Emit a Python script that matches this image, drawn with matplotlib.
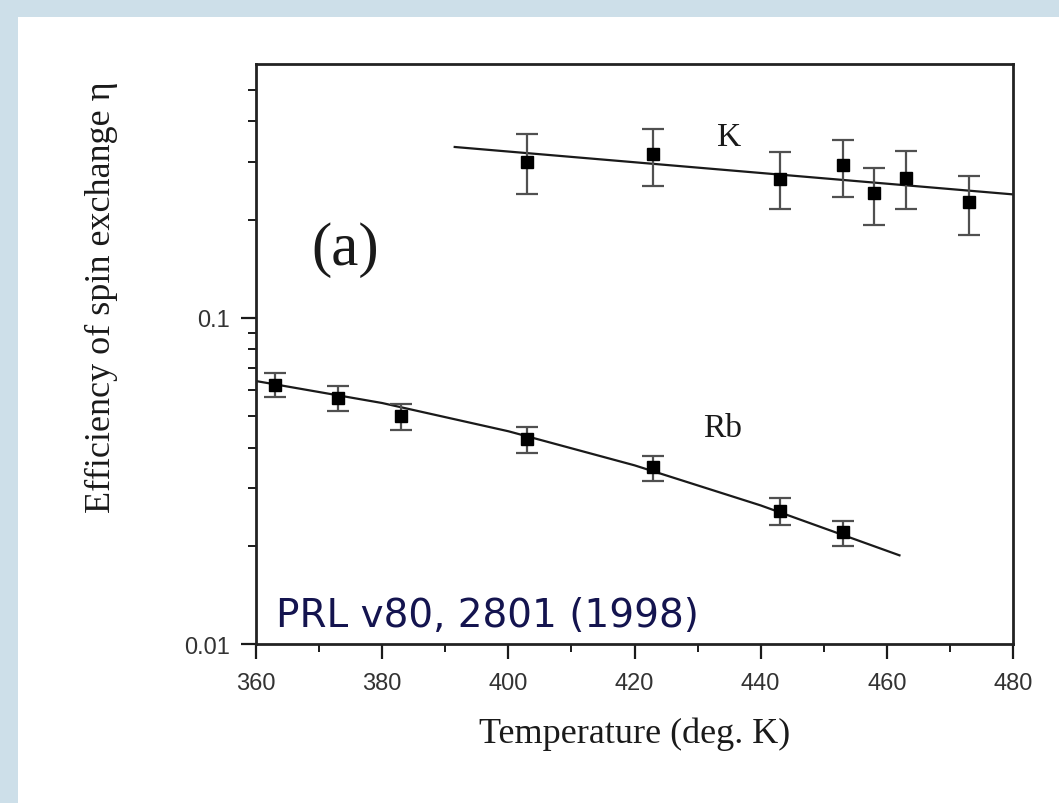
"""
Spin-exchange efficiency vs temperature, K and Rb (PRL v80, 2801)
"""
import matplotlib
matplotlib.use('Agg')
import matplotlib.pyplot as plt
import matplotlib.patches as mpatches
from matplotlib.ticker import FixedLocator, NullFormatter

SLIDE_BG = '#cddfe9'
NAVY     = '#14144f'
INK      = '#1a1a1a'
BAR      = '#505050'

# --- data ---------------------------------------------------------------------
k_temp     = [403, 423, 443, 453, 458, 463, 473]
k_eta      = [0.300, 0.317, 0.266, 0.294, 0.241, 0.268, 0.227]
k_eta_hi   = [0.366, 0.379, 0.322, 0.350, 0.287, 0.324, 0.272]
k_eta_lo   = [0.239, 0.253, 0.215, 0.234, 0.192, 0.215, 0.180]
k_fit_temp = [391.5, 480]
k_fit_eta  = [0.334, 0.239]

rb_temp     = [363, 373, 383, 403, 423, 443, 453]
rb_eta      = [0.0622, 0.0567, 0.0499, 0.0424, 0.0348, 0.0255, 0.0220]
rb_eta_hi   = [0.0677, 0.0618, 0.0544, 0.0462, 0.0377, 0.0280, 0.0239]
rb_eta_lo   = [0.0571, 0.0518, 0.0452, 0.0385, 0.0317, 0.0231, 0.0200]
rb_fit_temp = [360, 380, 400, 420, 440, 462]
rb_fit_eta  = [0.0640, 0.0548, 0.0449, 0.0353, 0.0266, 0.0187]

x_major = [360, 380, 400, 420, 440, 460, 480]
x_minor = [370, 390, 410, 430, 450, 470]
y_major = [0.01, 0.1]
y_minor = [0.02, 0.03, 0.04, 0.05, 0.06, 0.07, 0.08, 0.09,
           0.2, 0.3, 0.4, 0.5]

# --- figure -------------------------------------------------------------------
W, H = 1059, 804
fig = plt.figure(figsize=(W / 100, H / 100), dpi=100)
fig.patch.set_facecolor(SLIDE_BG)
fig.patches.append(mpatches.Rectangle((18 / W, 0), 1, 1 - 18 / H,
                                      transform=fig.transFigure,
                                      facecolor='white', edgecolor='none', zorder=-5))

ax = fig.add_axes([256 / W, 1 - 645 / H, (1013 - 256) / W, (645 - 65) / H])
ax.set_yscale('log')
ax.set_xlim(360, 480)
ax.set_ylim(0.01, 0.6)

def err(vals, lo, hi):
    return [[v - l for v, l in zip(vals, lo)], [h - v for v, h in zip(vals, hi)]]

ax.plot(k_fit_temp, k_fit_eta, color=INK, lw=1.6, zorder=2)
ax.plot(rb_fit_temp, rb_fit_eta, color=INK, lw=1.6, zorder=2)
ax.errorbar(k_temp, k_eta, yerr=err(k_eta, k_eta_lo, k_eta_hi), fmt='s',
            color='black', ms=9, ecolor=BAR, elinewidth=1.6, capsize=8,
            capthick=1.6, zorder=3)
ax.errorbar(rb_temp, rb_eta, yerr=err(rb_eta, rb_eta_lo, rb_eta_hi), fmt='s',
            color='black', ms=8, ecolor=BAR, elinewidth=1.6, capsize=8,
            capthick=1.6, zorder=3)

# ticks
ax.xaxis.set_major_locator(FixedLocator(x_major))
ax.xaxis.set_minor_locator(FixedLocator(x_minor))
ax.yaxis.set_major_locator(FixedLocator(y_major))
ax.yaxis.set_minor_locator(FixedLocator(y_minor))
ax.yaxis.set_minor_formatter(NullFormatter())
ax.set_yticklabels(['0.01', '0.1'])
ax.set_xticklabels([str(v) for v in x_major])
ax.tick_params(which='major', direction='out', length=11, width=1.6,
               labelsize=17, colors=INK, labelcolor='#333333',
               labelfontfamily='Liberation Sans')
ax.tick_params(axis='x', which='major', pad=9)
ax.tick_params(axis='y', which='major', pad=8)
ax.tick_params(which='minor', direction='out', length=6, width=1.4, colors=INK)
ax.tick_params(top=False, right=False, which='both')
for s in ax.spines.values():
    s.set_linewidth(2.0)
    s.set_color('#222222')

ax.set_xlabel('Temperature (deg. K)', fontsize=26, family='Liberation Serif',
              color=INK)
ax.xaxis.set_label_coords(0.5, -0.125)
ax.set_ylabel('Efficiency of spin exchange η', fontsize=26, family='Liberation Serif',
              color=INK)
ax.yaxis.set_label_coords(-0.182, 0.60)

ax.text(0.118, 0.68, '(a)', transform=ax.transAxes, fontsize=44,
        family='Liberation Serif', color=INK, ha='center', va='center')
ax.text(435, 0.36, 'K', fontsize=24, family='Liberation Serif', color=INK,
        ha='center', va='center')
ax.text(434, 0.046, 'Rb', fontsize=24, family='Liberation Serif', color=INK,
        ha='center', va='center')
ax.text(0.026, 0.018, 'PRL v80, 2801 (1998)', transform=ax.transAxes,
        fontsize=28, family='DejaVu Sans', color=NAVY, va='bottom')

fig.savefig('out.png', dpi=100, facecolor=fig.get_facecolor())
